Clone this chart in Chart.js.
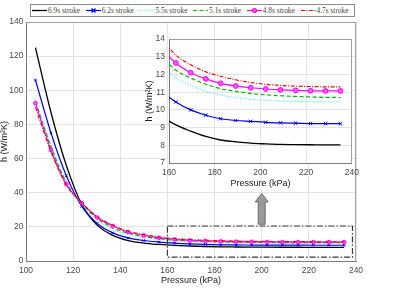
<!DOCTYPE html>
<html>
<head>
<meta charset="utf-8">
<script src="https://cdn.jsdelivr.net/npm/chart.js@4.4.1/dist/chart.umd.min.js"></script>
<style>
  html, body { margin: 0; padding: 0; background: #fff; }
  #wrap { position: relative; width: 420px; height: 288px; overflow: hidden; }
  #main { position: absolute; left: 0; top: 0; }
  #inset { position: absolute; left: 138px; top: 30px; }
  #leyenda { position: absolute; left: 30px; top: 4px; width: 323px; height: 11px; border: 1px solid #8c8c8c; background: #fff; }
  .item { position: absolute; top: 0; height: 11px; font: 7.4px "Liberation Serif", serif; color: #444; line-height: 11px; white-space: nowrap; }
  .item canvas { position: absolute; left: 0; top: 0; }
  .item span { position: absolute; left: 16px; top: 0; }
</style>
</head>
<body>
<div id="wrap">
  <canvas id="main" width="420" height="288"></canvas>
  <canvas id="inset" width="226" height="160"></canvas>
  <div id="leyenda"></div>
</div>
<script>
// presion (kPa) y coeficiente h (W/m2K) por duracion de carrera
const presion = [104, 110.6, 117.1, 123.7, 130.2, 136.8, 143.3, 149.9, 156.4, 163, 169.5, 176.1, 182.6, 189.2, 195.7, 202.3, 208.8, 215.4, 221.9, 228.5, 235];
const h69 = [125, 87, 56, 33, 21, 15, 12, 10.5, 9.7, 9.15, 8.8, 8.5, 8.3, 8.2, 8.12, 8.08, 8.05, 8.04, 8.03, 8.02, 8.02];
const h62 = [106, 75, 50, 32, 22, 16.5, 13.5, 12, 11.1, 10.45, 10.0, 9.7, 9.5, 9.4, 9.35, 9.3, 9.27, 9.25, 9.23, 9.22, 9.22];
const h55 = [95, 68, 46, 33, 24, 18.5, 15.5, 13.7, 12.6, 11.8, 11.4, 11.05, 10.85, 10.7, 10.6, 10.55, 10.5, 10.48, 10.46, 10.45, 10.45];
const h51 = [93, 67, 46, 33.5, 25, 19.5, 16.3, 14.3, 13.1, 12.25, 11.8, 11.45, 11.2, 11.05, 10.93, 10.85, 10.8, 10.76, 10.73, 10.71, 10.7];
const h48 = [92.5, 65, 45, 34, 25.5, 20.5, 17, 15, 13.6, 12.65, 12.1, 11.75, 11.5, 11.35, 11.25, 11.18, 11.13, 11.1, 11.08, 11.07, 11.07];
const h47 = [90, 64, 44.5, 34, 26, 21, 17.5, 15.5, 14.1, 13.1, 12.55, 12.15, 11.9, 11.7, 11.55, 11.45, 11.38, 11.34, 11.32, 11.3, 11.3];

const etiquetas = ["6.9s stroke", "6.2s stroke", "5.5s stroke", "5.1s stroke", "4.8s stroke", "4.7s stroke"];
const series = [h69, h62, h55, h51, h48, h47];

const ticksXMain = [100, 120, 140, 160, 180, 200, 220, 240];
const ticksYMain = [0, 20, 40, 60, 80, 100, 120, 140];
const ticksXInset = [160, 180, 200, 220, 240];
const ticksYInset = [7, 8, 9, 10, 11, 12, 13, 14];

const colores = ["#000000", "#0000ee", "#40eaff", "#00b400", "#ff00ff", "#ee0000"];
const guiones = [[], [], [1, 1.6], [4, 2.5], [], [4, 1.5, 1, 1.5]];
const marcadores = [false, "crossRot", false, false, "circle", false];
const grosor = [1.3, 1.2, 1.2, 1.2, 1.2, 1.1];

const fuente = "'Liberation Sans', Arial, sans-serif";
const colorTexto = "#4a4a4a";
const colorEje = "#7a7a7a";
const colorGrid = "#e4e4e4";

function crearDatasets(radio) {
  return series.map((valores, i) => ({
    label: etiquetas[i],
    data: presion.map((p, k) => ({ x: p, y: valores[k] })),
    borderColor: colores[i],
    backgroundColor: colores[i],
    borderWidth: grosor[i],
    borderDash: guiones[i],
    pointStyle: marcadores[i] || "circle",
    pointRadius: marcadores[i] ? radio : 0,
    pointBorderWidth: 1,
    pointBackgroundColor: i === 4 ? "#ff55ff" : colores[i],
    pointBorderColor: colores[i],
    cubicInterpolationMode: "monotone",
    fill: false,
    order: 5 - i,
  }));
}

function fijarTicks(valores) {
  return (scale) => { scale.ticks = valores.map((v) => ({ value: v })); };
}

const cajaPlugin = {
  id: "caja",
  beforeDraw(chart, args, opts) {
    if (!opts.fondo) return;
    const a = chart.chartArea;
    const ctx = chart.ctx;
    ctx.save();
    ctx.fillStyle = "#fff";
    ctx.fillRect(a.left, a.top, a.right - a.left, a.bottom - a.top);
    ctx.restore();
  },
  afterDraw(chart) {
    const a = chart.chartArea;
    const ctx = chart.ctx;
    ctx.save();
    ctx.strokeStyle = "#a0a0a0";
    ctx.lineWidth = 1;
    ctx.beginPath();
    ctx.moveTo(Math.round(a.left) + 0.5, Math.round(a.top) + 0.5);
    ctx.lineTo(Math.round(a.right) - 0.5, Math.round(a.top) + 0.5);
    ctx.lineTo(Math.round(a.right) - 0.5, Math.round(a.bottom) - 0.5);
    ctx.stroke();
    ctx.restore();
  },
};

// recuadro de zoom y flecha hacia el inset
const zona = { x0: 160, x1: 238.5, y0: 2.3, y1: 20.5 };
const flecha = { x: 200, y0: 21.5, y1: 39.6 };

const zoomPlugin = {
  id: "zoomBox",
  afterDatasetsDraw(chart) {
    const ctx = chart.ctx;
    const sx = chart.scales.x;
    const sy = chart.scales.y;
    ctx.save();
    ctx.strokeStyle = "#3a3a3a";
    ctx.lineWidth = 1.2;
    ctx.setLineDash([6, 2, 1.5, 2]);
    const l = sx.getPixelForValue(zona.x0), r = sx.getPixelForValue(zona.x1);
    const t = sy.getPixelForValue(zona.y1), b = sy.getPixelForValue(zona.y0);
    ctx.strokeRect(l, t, r - l, b - t);
    ctx.setLineDash([]);

    const cx = sx.getPixelForValue(flecha.x);
    const yb = sy.getPixelForValue(flecha.y0);
    const yt = sy.getPixelForValue(flecha.y1);
    ctx.fillStyle = "#9a9a9a";
    ctx.strokeStyle = "#5a5a5a";
    ctx.lineWidth = 0.8;
    ctx.beginPath();
    ctx.moveTo(cx, yt);
    ctx.lineTo(cx + 6.5, yt + 8.5);
    ctx.lineTo(cx + 3.5, yt + 8.5);
    ctx.lineTo(cx + 3.5, yb);
    ctx.lineTo(cx - 3.5, yb);
    ctx.lineTo(cx - 3.5, yt + 8.5);
    ctx.lineTo(cx - 6.5, yt + 8.5);
    ctx.closePath();
    ctx.fill();
    ctx.stroke();
    ctx.restore();
  },
};

function escala(min, max, ticks, ancho, alto, titulo, tituloPad, tickPad) {
  const s = {
    type: "linear",
    min: min,
    max: max,
    afterBuildTicks: fijarTicks(ticks),
    grid: { color: colorGrid, drawTicks: false },
    border: { display: true, color: colorEje, width: 1 },
    ticks: { color: colorTexto, font: { family: fuente, size: 8.5 }, padding: tickPad, maxRotation: 0, autoSkip: false },
    title: { display: true, text: titulo, color: "#222", font: { family: fuente, size: 9, lineHeight: 1 }, padding: tituloPad },
  };
  if (ancho != null) s.afterFit = (sc) => { sc.width = ancho; };
  if (alto != null) s.afterFit = (sc) => { sc.height = alto; };
  return s;
}

Chart.defaults.animation = false;

new Chart(document.getElementById("main"), {
  type: "line",
  data: { datasets: crearDatasets(1.8) },
  options: {
    responsive: false,
    devicePixelRatio: 1,
    layout: { padding: { top: 22, right: 64, left: 0, bottom: 0 } },
    plugins: { legend: { display: false }, tooltip: { enabled: false }, caja: { fondo: false } },
    scales: {
      x: escala(100, 240, ticksXMain, null, 27, "Pressure (kPa)", { top: 0, bottom: 3 }, 5),
      y: escala(0, 140, ticksYMain, 26, null, "h (W/m\u00B2K)", { top: 0, bottom: 0 }, 2.5),
    },
  },
  plugins: [cajaPlugin, zoomPlugin],
});

new Chart(document.getElementById("inset"), {
  type: "line",
  data: { datasets: crearDatasets(2.4) },
  options: {
    responsive: false,
    devicePixelRatio: 1,
    layout: { padding: { top: 9, right: 6, left: 0, bottom: 0 } },
    plugins: { legend: { display: false }, tooltip: { enabled: false }, caja: { fondo: true } },
    scales: {
      x: escala(160, 240, ticksXInset, null, 27, "Pressure (kPa)", { top: 0, bottom: 1.5 }, 5),
      y: escala(7, 14, ticksYInset, 31, null, "h (W/m\u00B2K)", { top: 7.5, bottom: 0 }, 4),
    },
  },
  plugins: [cajaPlugin],
});

// leyenda en HTML con muestras de linea
const leyenda = document.getElementById("leyenda");
etiquetas.forEach((txt, i) => {
  const item = document.createElement("div");
  item.className = "item";
  item.style.left = (1 + i * 53.7) + "px";
  const c = document.createElement("canvas");
  c.width = 15;
  c.height = 11;
  const ctx = c.getContext("2d");
  ctx.strokeStyle = colores[i];
  ctx.lineWidth = grosor[i];
  ctx.setLineDash(guiones[i]);
  ctx.beginPath();
  ctx.moveTo(0, 5.5);
  ctx.lineTo(15, 5.5);
  ctx.stroke();
  ctx.setLineDash([]);
  if (marcadores[i] === "circle") {
    ctx.fillStyle = "#ff55ff";
    ctx.beginPath();
    ctx.arc(7.5, 5.5, 2, 0, Math.PI * 2);
    ctx.fill();
    ctx.stroke();
  } else if (marcadores[i] === "crossRot") {
    ctx.beginPath();
    ctx.moveTo(5.5, 3.5); ctx.lineTo(9.5, 7.5);
    ctx.moveTo(9.5, 3.5); ctx.lineTo(5.5, 7.5);
    ctx.stroke();
  }
  const span = document.createElement("span");
  span.textContent = txt;
  item.appendChild(c);
  item.appendChild(span);
  leyenda.appendChild(item);
});
</script>
</body>
</html>
